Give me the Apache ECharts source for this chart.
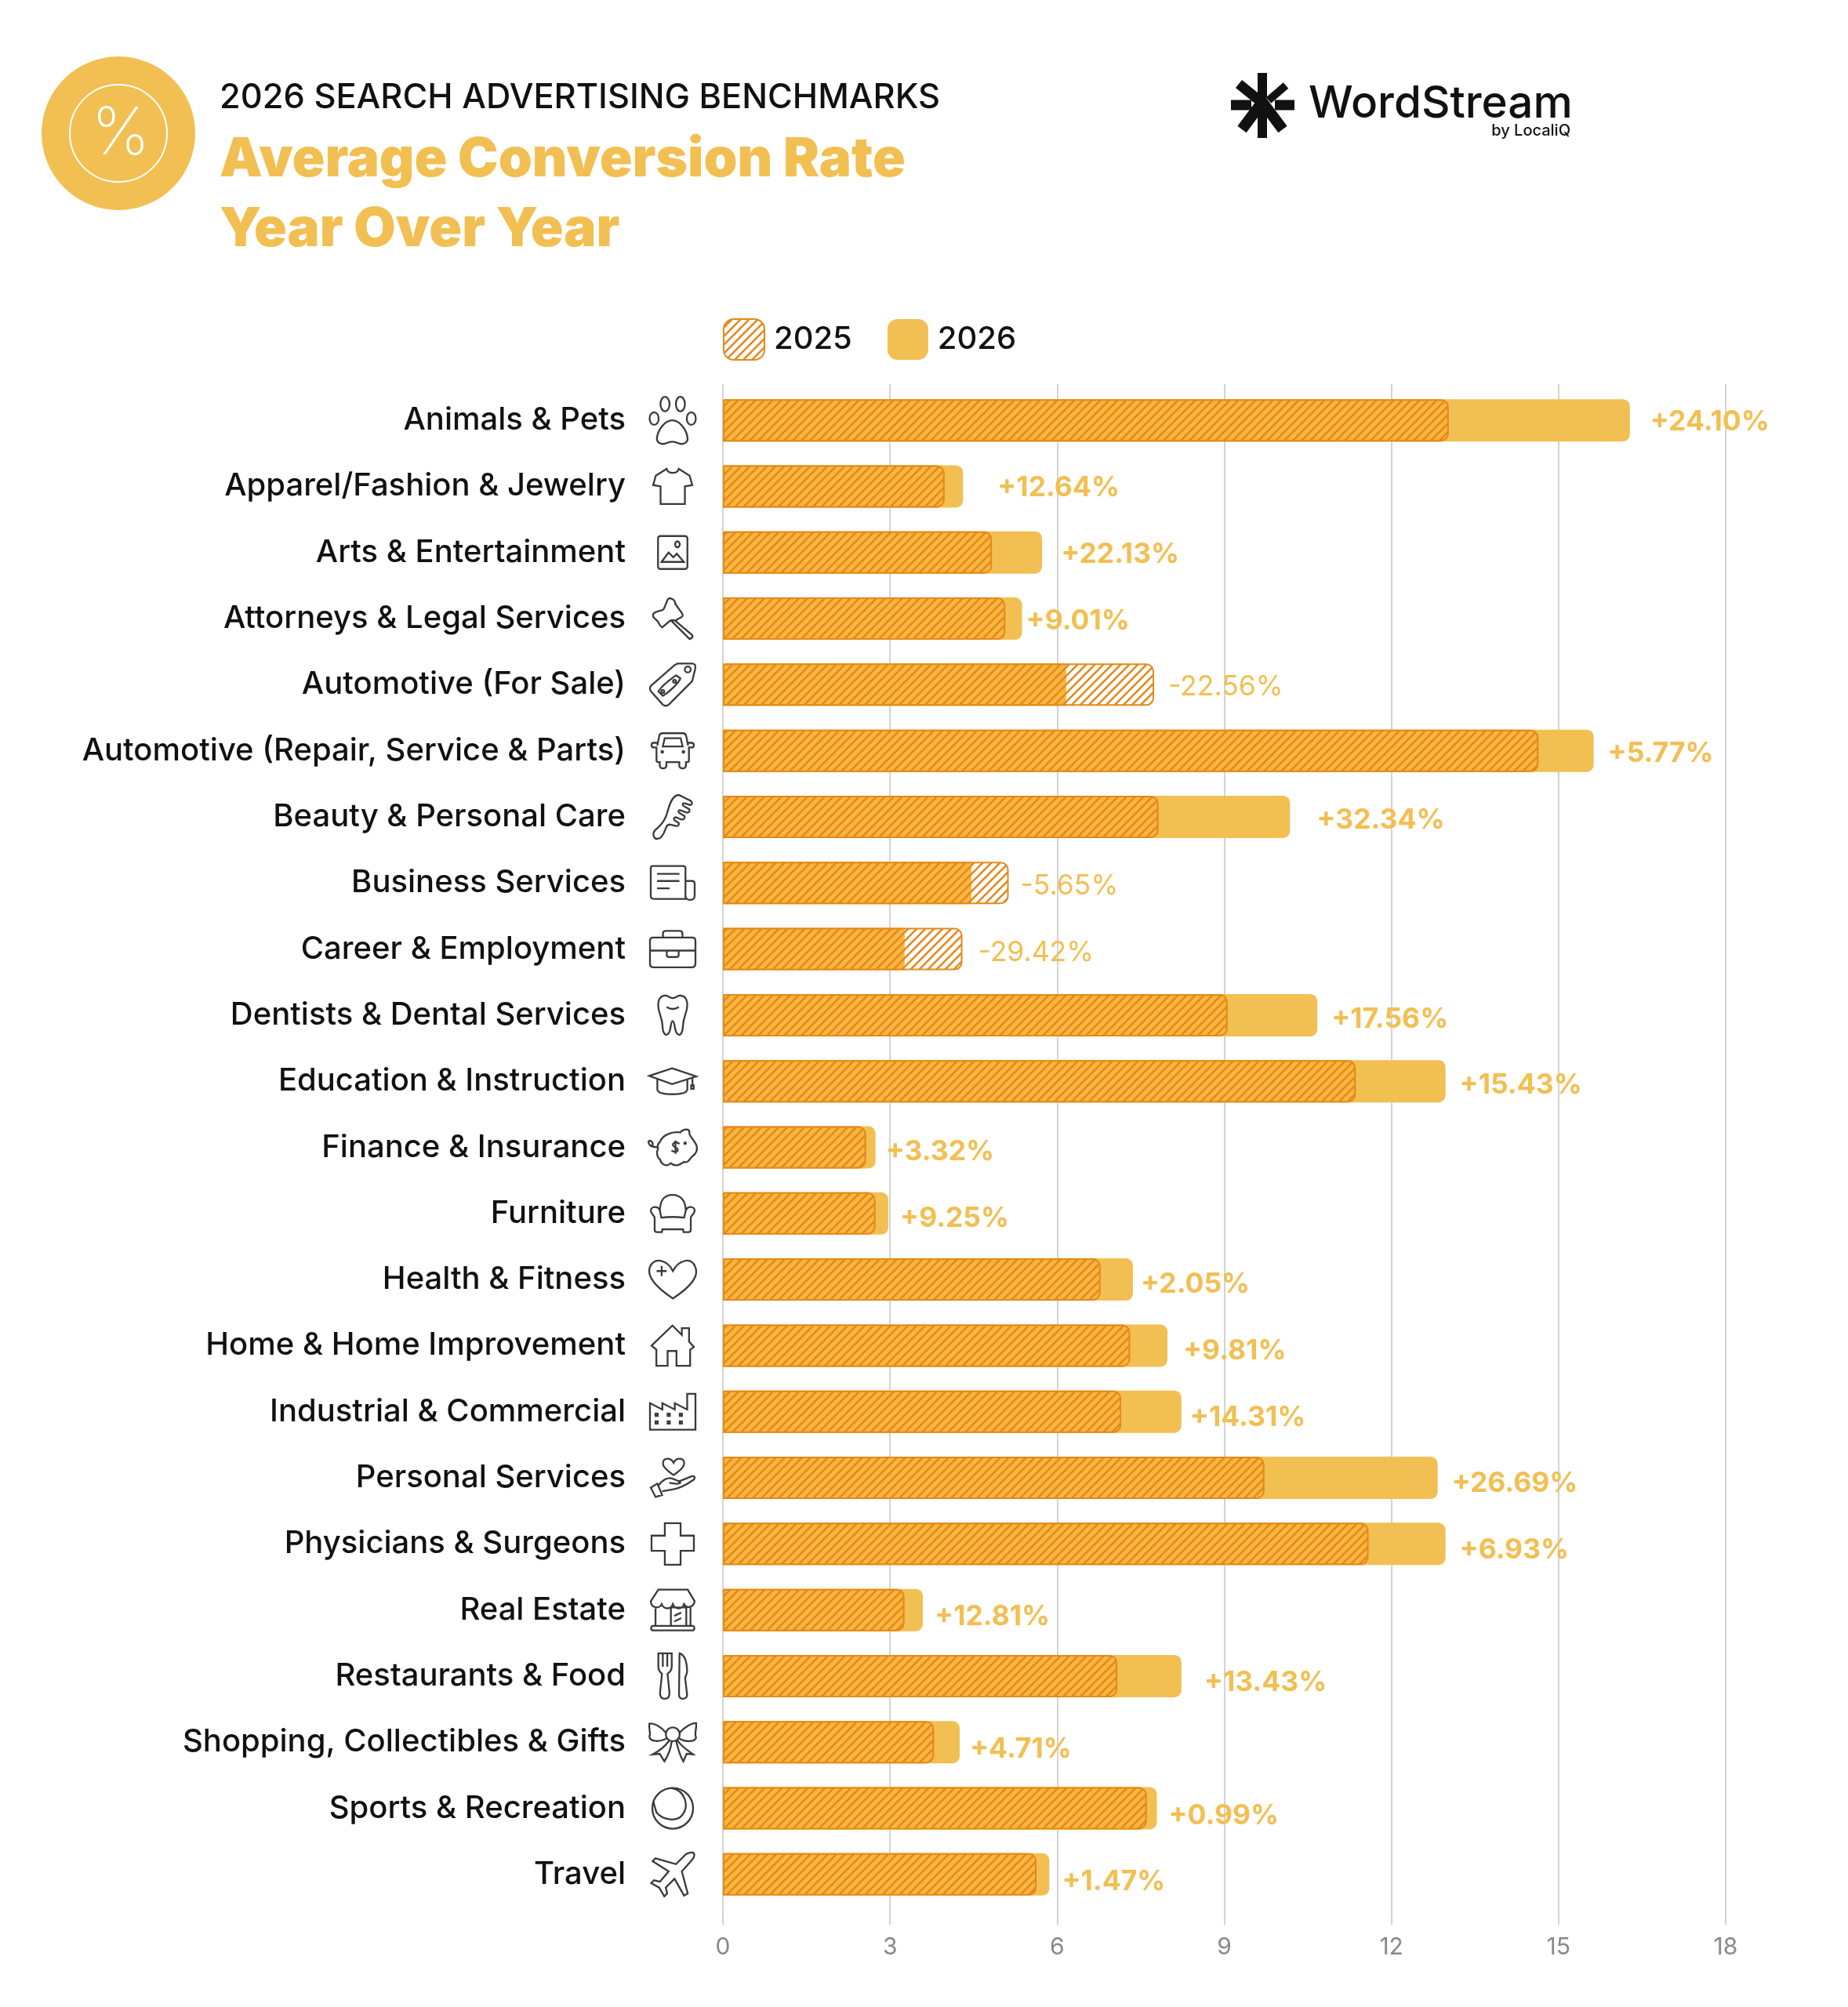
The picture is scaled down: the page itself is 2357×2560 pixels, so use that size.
<!DOCTYPE html>
<html>
<head>
<meta charset="utf-8">
<style>html,body{margin:0;padding:0;background:#fff}#chart{width:2357px;height:2560px}</style>
<script src="https://cdn.jsdelivr.net/npm/echarts@6/dist/echarts.min.js"></script>
</head>
<body>
<div id="chart"></div>
<script>
var categories = ['Animals & Pets','Apparel/Fashion & Jewelry','Arts & Entertainment','Attorneys & Legal Services','Automotive (For Sale)','Automotive (Repair, Service & Parts)','Beauty & Personal Care','Business Services','Career & Employment','Dentists & Dental Services','Education & Instruction','Finance & Insurance','Furniture','Health & Fitness','Home & Home Improvement','Industrial & Commercial','Personal Services','Physicians & Surgeons','Real Estate','Restaurants & Food','Shopping, Collectibles & Gifts','Sports & Recreation','Travel'];
var values2025 = [13.03,3.98,4.83,5.07,7.74,14.64,7.82,5.13,4.30,9.06,11.36,2.57,2.74,6.78,7.31,7.15,9.72,11.59,3.26,7.08,3.79,7.61,5.63];
var values2026 = [16.28,4.31,5.73,5.37,6.16,15.63,10.18,4.46,3.26,10.67,12.97,2.74,2.97,7.36,7.98,8.23,12.83,12.97,3.59,8.23,4.25,7.79,5.86];
var changeLabels = ['+24.10%','+12.64%','+22.13%','+9.01%','-22.56%','+5.77%','+32.34%','-5.65%','-29.42%','+17.56%','+15.43%','+3.32%','+9.25%','+2.05%','+9.81%','+14.31%','+26.69%','+6.93%','+12.81%','+13.43%','+4.71%','+0.99%','+1.47%'];
// gap between bar end and its label, it differs per row in the original
var labelGaps = [26,44,24,5,18,18,34,15,20,18,18,13,15,10,20,11,18,18,15,29,13,15,16];

var FONT = 'Inter';
var YELLOW = '#F2BF52';
var ORANGE = '#E5881A';

// icons, one per category, scaled into a box by the path layout
var iconSizes = [60,50,42,52,58,54,56,56,58,50,60,62,56,60,54,58,56,54,56,58,60,52,56];
var icons = [
 'M6 30a5 7 0 1 0 10 0a5 7 0 1 0 -10 0Z M18 14a5 8 0 1 0 10 0a5 8 0 1 0 -10 0Z M35 14a5 8 0 1 0 10 0a5 8 0 1 0 -10 0Z M47 30a5 7 0 1 0 10 0a5 7 0 1 0 -10 0Z M31 32C23 32 15 42 14 52C14 58 21 59 25 57C29 55 33 55 37 57C41 59 48 58 48 52C47 42 39 32 31 32Z',
 'M22 6L6 16L2 30L13 32L13 58L49 58L49 32L60 30L56 16L40 6C38 14 24 14 22 6Z',
 'M8 4H50a4 4 0 0 1 4 4V56a4 4 0 0 1 -4 4H8a4 4 0 0 1 -4 -4V8a4 4 0 0 1 4 -4Z M33 18a4 5 0 1 0 8 0a4 5 0 1 0 -8 0Z M10 48L22 32L30 40L36 34L48 48Z',
 'M30 2Q36 4 36 10L46 24Q50 30 42 32L36 36Q32 34 28 36L16 46Q12 44 10 38L2 30Q0 24 8 22L14 20Q18 20 20 14L24 4Q26 0 30 2Z M36 36L62 58Q64 62 58 64L30 36',
 'M40 6L60 6Q66 6 64 14L60 30L28 62Q24 65 20 62L4 44Q1 40 4 36L36 8Z M50 14a4 4 0 1 0 8 0a4 4 0 1 0 -8 0Z M14 44C20 34 30 28 38 22L44 26C42 32 30 44 20 50Z M18 44a2 2 0 1 0 4 0a2 2 0 1 0 -4 0Z M34 30a2 2 0 1 0 4 0a2 2 0 1 0 -4 0Z',
 'M75 95L82 60Q84 50 95 50H167Q178 50 180 60L187 95 M75 85H60Q54 85 54 95Q54 102 64 102H72V150Q72 155 80 155H84V170Q86 178 96 178Q106 178 108 170V155H155V170Q157 178 167 178Q177 178 179 170V155H184Q190 155 190 150V102H198Q208 102 208 95Q208 85 200 85H187 M95 98L102 68H160L167 98Z M90 118a3 3 0 1 0 6 0a3 3 0 1 0 -6 0Z M167 118a3 3 0 1 0 6 0a3 3 0 1 0 -6 0Z',
 'M150 285C130 285 120 310 112 340C105 370 92 385 70 405C55 420 65 438 78 436C90 435 98 420 105 400C108 390 115 385 125 388L140 392Q152 392 150 382L135 372Q130 362 140 362L160 370Q172 370 170 358L150 346Q146 336 156 338L178 346Q190 346 186 334L165 322Q160 312 170 314L190 320Q200 316 192 306Z',
 'M55 555H172Q180 555 180 563V680H60Q48 680 48 668V563Q48 555 55 555Z M180 612H205Q215 612 215 622V668Q215 684 198 684Q180 684 180 668 M72 585H157 M72 612H157 M72 640H120',
 'M60 830H205Q216 830 216 842V925Q216 940 202 940H62Q48 940 48 925V842Q48 830 60 830Z M96 830V815Q96 805 106 805H158Q168 805 168 815V830 M48 878H216 M110 878V895Q110 902 118 902H146Q154 902 154 895V878',
 'M105 1030C85 1028 74 1045 75 1070C76 1100 90 1110 92 1150C93 1185 110 1195 120 1170C126 1150 125 1130 132 1130C139 1130 138 1150 144 1170C154 1195 171 1185 172 1150C174 1110 188 1100 189 1070C190 1045 179 1028 159 1030C148 1031 142 1040 132 1040C122 1040 116 1031 105 1030Z M108 1075Q132 1090 156 1075',
 'M130 1328L225 1360L130 1390L40 1358Z M72 1372V1410Q72 1430 130 1430Q190 1430 190 1410V1372 M210 1365V1400 M205 1395h10v14h-10z',
 'M85 110C95 85 130 70 160 75C175 60 195 60 195 75C190 85 215 105 222 125C228 150 212 160 205 165C195 175 190 190 175 185C160 195 145 205 125 190C110 205 90 195 85 175C75 170 70 150 78 135C74 125 80 115 85 110Z M78 130C65 130 45 130 42 110C45 100 60 110 58 120C55 130 45 125 48 118 M176 115a3 3 0 1 0 6 0a3 3 0 1 0 -6 0Z M158 118Q145 108 138 114Q126 122 142 130Q158 138 148 146Q138 150 128 142 M143 105V155',
 'M52 375C52 360 78 355 85 375C85 340 100 318 130 318C160 318 178 340 178 375C185 355 210 360 210 375C210 385 198 392 196 400V445Q196 452 188 452H170L168 442H94L92 452H74Q66 452 66 445V400C64 392 52 385 52 375Z M85 375L90 400Q130 395 172 400L178 375',
 'M132 610C115 575 70 555 50 595C35 635 90 680 132 708C175 680 230 635 212 595C195 555 150 575 132 610Z M92 592V628 M74 610H110',
 'M52 890L130 815L165 850V825H192V875L210 895L196 905V965H145V910H112V965H70V905Z',
 'M50 1112L95 1135V1112L140 1135V1112L185 1135V1078H215V1208H50Z M70 1150h8v8h-8z M114 1150h8v8h-8z M158 1150h8v8h-8z M70 1178h8v8h-8z M114 1178h8v8h-8z M158 1178h8v8h-8z',
 'M135 1345C125 1325 95 1325 98 1350C100 1365 120 1378 135 1388C150 1378 170 1365 172 1350C175 1325 145 1325 135 1345Z M55 1432L78 1418L95 1458L72 1465Z M82 1425C95 1405 115 1395 130 1400L150 1408C165 1415 160 1420 140 1418L120 1415 M150 1412L200 1392C212 1390 212 1402 200 1408C175 1425 150 1435 135 1438L95 1445',
 'M103 135H160V180H208V235H160V285H103V235H55V180H103Z',
 'M80 388H185L210 430C205 455 180 455 172 440C165 460 140 460 132 440C125 460 100 460 92 440C85 458 55 455 53 430Z M70 455V518 M195 452V518 M125 452H180V518H125Z M137 482L162 470 M137 502L162 490 M58 518H205Q213 526 205 534H58Q50 526 58 518Z',
 'M82 632V680Q82 695 95 705L88 775Q88 795 105 795Q122 795 122 775L115 705Q130 695 130 680V632Z M98 632V680 M114 632V680 M158 632Q185 640 185 700L178 720L185 780Q185 795 170 795Q156 795 156 780Z',
 'M107 938a25 25 0 1 0 50 0a25 25 0 1 0 -50 0Z M107 932C90 910 60 895 48 900C45 925 55 935 48 945C50 968 90 965 110 952 M157 932C175 910 205 895 216 898C218 925 208 935 216 950C210 968 175 965 154 952 M120 960C105 980 80 1000 60 1010L85 1008L102 1035C115 1015 125 990 128 963 M144 960C150 985 155 1010 170 1035L182 1008L205 1010C185 995 160 980 148 958',
 'M2 32a30 30 0 1 0 60 0a30 30 0 1 0 -60 0Z M30 2C52 6 56 30 46 42C38 52 18 50 8 38C6 30 4 26 4 22',
 'M58 4C62 4 62 10 58 14L44 30L52 60L47 63L34 40L22 52L24 60L20 64L13 52L2 46L6 42L14 44L26 30L4 16L8 12L36 20L50 6Q54 4 58 4Z'
];

// diagonal hatch tile for the 2025 bars
function makeHatch() {
	var size = 11;
	var c = document.createElement('canvas');
	c.width = size;
	c.height = size;
	var ctx = c.getContext('2d');
	ctx.strokeStyle = ORANGE;
	ctx.lineWidth = 2.6;
	ctx.beginPath();
	ctx.moveTo(-2, size + 2); ctx.lineTo(size + 2, -2);
	ctx.moveTo(-2, 2); ctx.lineTo(2, -2);
	ctx.moveTo(size - 2, size + 2); ctx.lineTo(size + 2, size - 2);
	ctx.stroke();
	return c;
}
var hatch = {image: makeHatch(), repeat: 'repeat'};

function changeLabel(i) {
	return {
		show: true,
		position: 'right',
		distance: labelGaps[i],
		offset: [0, 2 + i * 0.36],
		formatter: changeLabels[i],
		fontFamily: FONT,
		fontSize: 35.5,
		fontWeight: changeLabels[i].charAt(0) === '-' ? 400 : 700,
		color: YELLOW
	};
}

var data2026 = values2026.map(function(v, i) {
	return v >= values2025[i] ? {value: v, label: changeLabel(i)} : {value: v};
});
var data2025 = values2025.map(function(v, i) {
	return v > values2026[i] ? {value: v, label: changeLabel(i)} : {value: v};
});
// where both years overlap the colours mix to a deeper orange
var dataOverlap = values2025.map(function(v, i) {
	var rounded = v <= values2026[i];
	return {value: Math.min(v, values2026[i]), itemStyle: {borderRadius: rounded ? [0, 9, 9, 0] : 0}};
});

var chart = echarts.init(document.getElementById('chart'));
var option = {
	animation: false,
	backgroundColor: '#fff',
	grid: {left: 922, right: 156, top: 494, bottom: 127},
	legend: {
		data: ['2025', '2026'],
		left: 917,
		top: 401,
		itemWidth: 52,
		itemHeight: 52,
		itemGap: 45,
		icon: 'roundRect',
		textStyle: {fontFamily: FONT, fontSize: 40, fontWeight: 500, color: '#111', padding: [0, 0, 0, 7]}
	},
	xAxis: [{
		type: 'value',
		min: 0,
		max: 18,
		interval: 3,
		axisLine: {show: false},
		axisTick: {show: true, length: 22, lineStyle: {color: '#c4c4c4', width: 1.5}},
		axisLabel: {fontFamily: FONT, fontSize: 30, color: '#888', margin: 36},
		splitLine: {show: true, lineStyle: {color: '#c4c4c4', width: 1.5}}
	}, {
		type: 'value',
		position: 'top',
		min: 0,
		max: 18,
		interval: 3,
		axisLine: {show: false},
		axisTick: {show: true, length: 4, lineStyle: {color: '#c4c4c4', width: 1.5}},
		axisLabel: {show: false},
		splitLine: {show: false}
	}],
	yAxis: {
		type: 'category',
		inverse: true,
		data: categories,
		axisLine: {show: false},
		axisTick: {show: false},
		axisLabel: {fontFamily: FONT, fontSize: 40, fontWeight: 500, color: '#111', margin: 124, padding: [12, 0, 0, 0]}
	},
	series: [{
		name: '2026',
		type: 'bar',
		barWidth: 54,
		barGap: '-100%',
		itemStyle: {color: YELLOW, borderRadius: [0, 9, 9, 0]},
		data: data2026
	}, {
		name: 'overlap',
		type: 'bar',
		barWidth: 54,
		barGap: '-100%',
		itemStyle: {color: '#F8B63F'},
		data: dataOverlap
	}, {
		name: '2025',
		type: 'bar',
		barWidth: 54,
		barGap: '-100%',
		itemStyle: {color: hatch, borderColor: ORANGE, borderWidth: 2, borderRadius: [0, 9, 9, 0]},
		data: data2025
	}, {
		name: 'icons',
		type: 'custom',
		silent: true,
		encode: {x: 0, y: 1},
		data: categories.map(function(c, i) { return [0, i]; }),
		renderItem: function(params, api) {
			var p = api.coord([0, api.value(1)]);
			var s = iconSizes[params.dataIndex];
			return {
				type: 'path',
				shape: {pathData: icons[params.dataIndex], x: p[0] - 64 - s / 2, y: p[1] - s / 2, width: s, height: s, layout: 'center'},
				style: {fill: 'none', stroke: '#3a3a3a', lineWidth: 2.3}
			};
		}
	}],
	graphic: [
		{type: 'circle', shape: {cx: 151, cy: 170, r: 98}, style: {fill: YELLOW}},
		{type: 'circle', shape: {cx: 151, cy: 170, r: 62}, style: {fill: 'none', stroke: '#fff', lineWidth: 2}},
		{type: 'text', style: {x: 154, y: 172, text: '%', fontFamily: FONT, fontSize: 84, fontWeight: 200, fill: '#fff', textAlign: 'center', textVerticalAlign: 'middle'}},
		{type: 'text', style: {x: 280, y: 125, text: '2026 SEARCH ADVERTISING BENCHMARKS', fontFamily: FONT, fontSize: 43.4, fontWeight: 500, fill: '#111', textVerticalAlign: 'middle'}},
		{type: 'text', style: {x: 280, y: 239, text: 'Average Conversion Rate', fontFamily: FONT, fontSize: 69, fontWeight: 900, fill: YELLOW, textVerticalAlign: 'bottom'}},
		{type: 'text', style: {x: 280, y: 328, text: 'Year Over Year', fontFamily: FONT, fontSize: 69, fontWeight: 900, fill: YELLOW, textVerticalAlign: 'bottom'}},
		{type: 'polyline', shape: {points: [[1610, 93], [1610, 125]]}, style: {stroke: '#111', lineWidth: 12, fill: 'none'}},
		{type: 'polyline', shape: {points: [[1610, 142], [1610, 176]]}, style: {stroke: '#111', lineWidth: 12, fill: 'none'}},
		{type: 'polyline', shape: {points: [[1570, 134], [1596, 134]]}, style: {stroke: '#111', lineWidth: 13, fill: 'none'}},
		{type: 'polyline', shape: {points: [[1626, 134], [1651, 134]]}, style: {stroke: '#111', lineWidth: 13, fill: 'none'}},
		{type: 'polyline', shape: {points: [[1580, 107], [1606, 128]]}, style: {stroke: '#111', lineWidth: 13, fill: 'none'}},
		{type: 'polyline', shape: {points: [[1640, 109], [1618, 128]]}, style: {stroke: '#111', lineWidth: 10, fill: 'none'}},
		{type: 'polyline', shape: {points: [[1584, 165], [1610, 130], [1636, 165]]}, style: {stroke: '#111', lineWidth: 14, fill: 'none'}},
		{type: 'text', style: {x: 1669, y: 133, text: 'WordStream', fontFamily: FONT, fontSize: 56.6, fontWeight: 500, fill: '#111', textVerticalAlign: 'middle'}},
		{type: 'text', style: {x: 2003, y: 167, text: 'by LocaliQ', fontFamily: FONT, fontSize: 20, fontWeight: 500, fill: '#111', textAlign: 'right', textVerticalAlign: 'middle'}}
	]
};
chart.setOption(option);
</script>
</body>
</html>
